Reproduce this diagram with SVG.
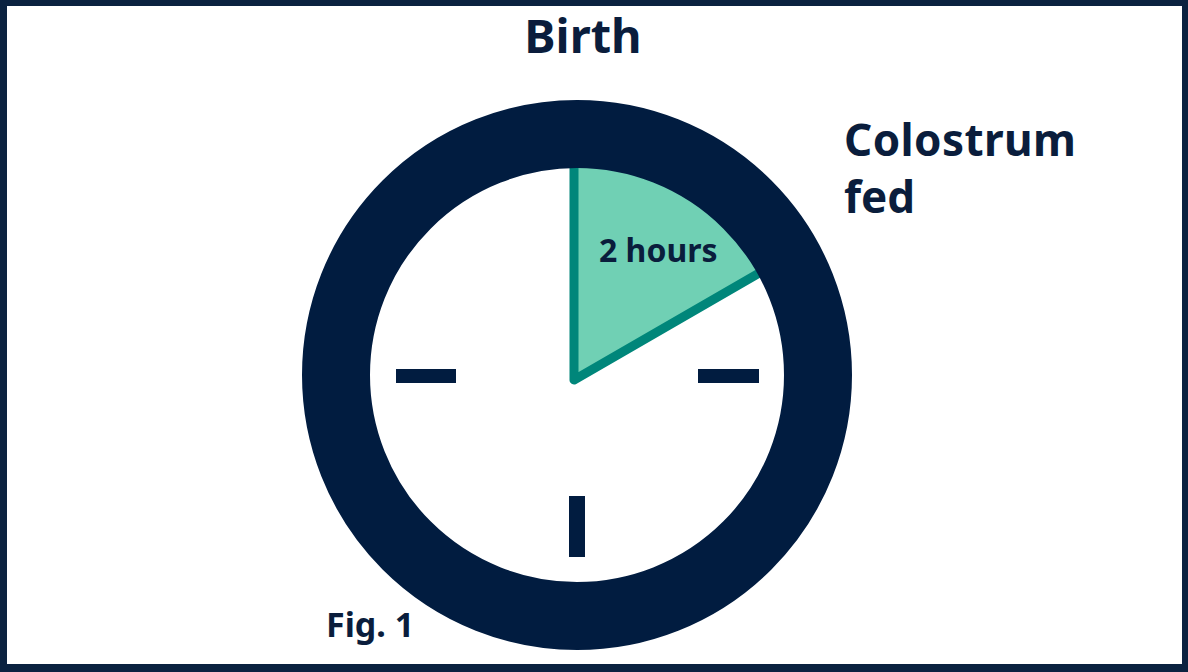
<svg xmlns="http://www.w3.org/2000/svg" width="1188" height="672" viewBox="0 0 1188 672">
  <style>
    .lbl { font-family: "Noto Sans", "Liberation Sans", sans-serif; font-weight: 700; fill: #0a1d3c; }
    .navy { fill: #011c40; }
  </style>
  <g id="frame">
    <rect x="0" y="0" width="1188" height="672" fill="#0b2240"/>
    <rect x="7" y="6" width="1175" height="658" fill="#ffffff"/>
  </g>
  <g id="clock">
    <circle cx="577" cy="375" r="207" fill="#ffffff"/>
    <g id="sector">
      <path d="M574 380 V150 A230 230 0 0 1 773 265 Z" fill="#70d0b4" stroke="#00867a" stroke-width="9" stroke-linejoin="round"/>
    </g>
    <circle cx="577" cy="375" r="241" fill="none" stroke="#011c40" stroke-width="68"/>
    <g id="ticks">
      <rect class="navy" x="396" y="369" width="60" height="14"/>
      <rect class="navy" x="698" y="369" width="61" height="14"/>
      <rect class="navy" x="569" y="496" width="16" height="61"/>
    </g>
  </g>
  <g id="label-birth"><text class="lbl" x="583" y="53" font-size="47" text-anchor="middle">Birth</text></g>
  <g id="label-colostrum">
    <text class="lbl" x="844" y="156" font-size="44" letter-spacing="0.4">Colostrum</text>
    <text class="lbl" x="844" y="213" font-size="44">fed</text>
  </g>
  <g id="label-hours"><text class="lbl" x="599" y="262" font-size="32">2 hours</text></g>
  <g id="label-fig"><text class="lbl" x="326" y="637" font-size="34">Fig. 1</text></g>
  <g id="connectors"/>
</svg>
